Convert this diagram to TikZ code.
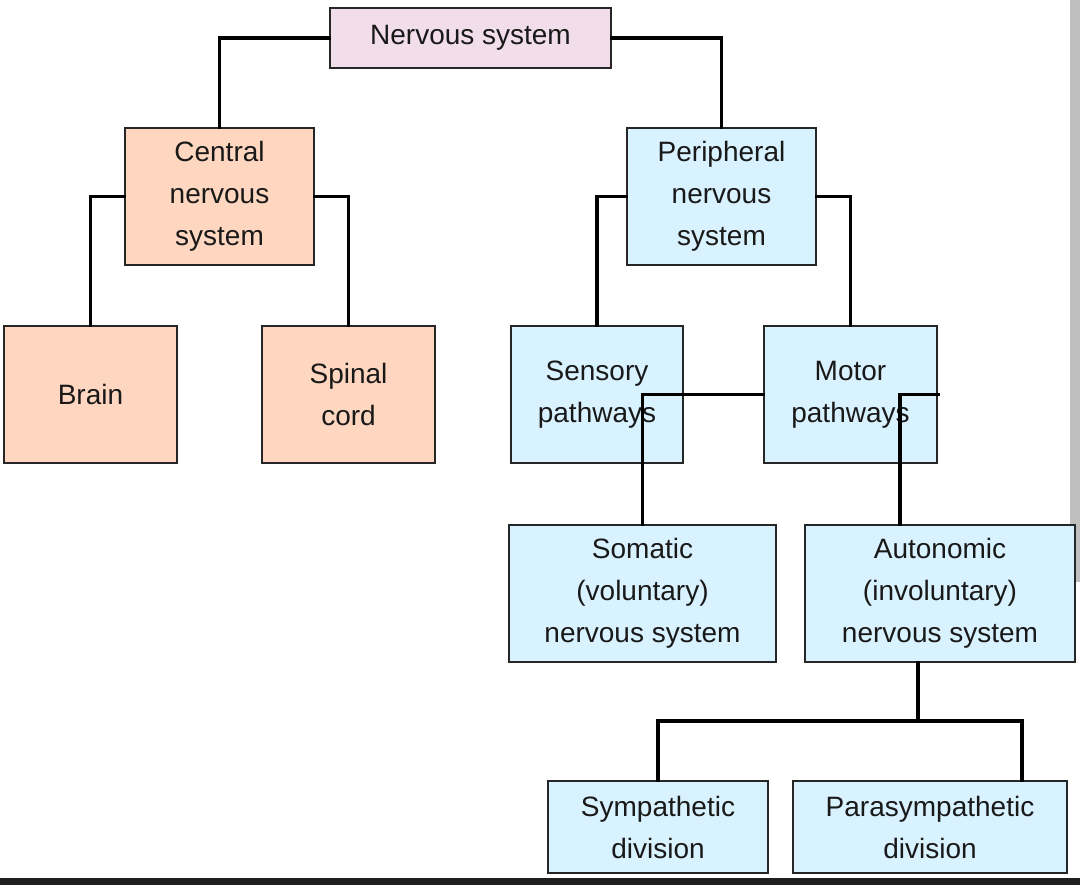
\documentclass[tikz,border=0pt]{standalone}
\usepackage{fontspec}
\setmainfont{Liberation Sans}
\begin{document}
\begin{tikzpicture}[x=1pt,y=-1pt,
  box/.style={draw=black!85,line width=1.6pt,inner sep=0pt,align=center,
    font=\fontsize{28}{42}\selectfont,text=black!90},
  red/.style={box,fill=red!30!orange!25!white},
  blue/.style={box,fill=blue!35!cyan!15!white},
  lav/.style={box,fill=blue!40!red!13!white},
  ln/.style={line width=3.6pt,line cap=rect}]
\useasboundingbox (0,0) rectangle (1080,885);
\fill[white] (0,0) rectangle (1080,885);
\fill[black!88] (0,878) rectangle (1080,885);
\fill[black!25] (1070,0) rectangle (1080,582);
\newcommand{\bx}[6]{\node[#1,minimum width=#4-#2,minimum height=#5-#3] (#6) at ({(#2+#4)/2},{(#3+#5)/2})}
\bx{lav}{330}{8}{611}{68}{ns} {Nervous system};
\bx{red}{125}{128}{314}{265}{cns} {Central\\nervous\\system};
\bx{blue}{627}{128}{816}{265}{pns} {Peripheral\\nervous\\system};
\bx{red}{4}{326}{177}{463}{brain} {Brain};
\bx{red}{262}{326}{435}{463}{spinal} {Spinal\\cord};
\bx{blue}{511}{326}{683}{463}{sens} {Sensory\\pathways};
\bx{blue}{764}{326}{937}{463}{motor} {Motor\\pathways};
\bx{blue}{509}{525}{776}{662}{som} {Somatic\\(voluntary)\\nervous system};
\bx{blue}{805}{525}{1075}{662}{aut} {Autonomic\\(involuntary)\\nervous system};
\bx{blue}{548}{781}{768}{873}{sym} {Sympathetic\\division};
\bx{blue}{793}{781}{1067}{873}{para} {Parasympathetic\\division};
\draw[ln] (ns.west) -| (cns.north);
\draw[ln] (ns.east) -| (pns.north);
\draw[ln] (cns.west) -| (brain.north);
\draw[ln] (cns.east) -| (spinal.north);
\draw[ln] (pns.west) -| (sens.north);
\draw[ln] (pns.east) -| (motor.north);
\draw[ln] (motor.west) -| (som.north);
\draw[ln] (motor.east) -| ([xshift=-40pt]aut.north);
\coordinate (j) at ([xshift=-22pt,yshift=-58pt]aut.south);
\draw[ln] ([xshift=-22pt]aut.south) -- (j);
\draw[ln] (sym.north) |- (j) -| ([xshift=92pt]para.north);
\end{tikzpicture}
\end{document}
